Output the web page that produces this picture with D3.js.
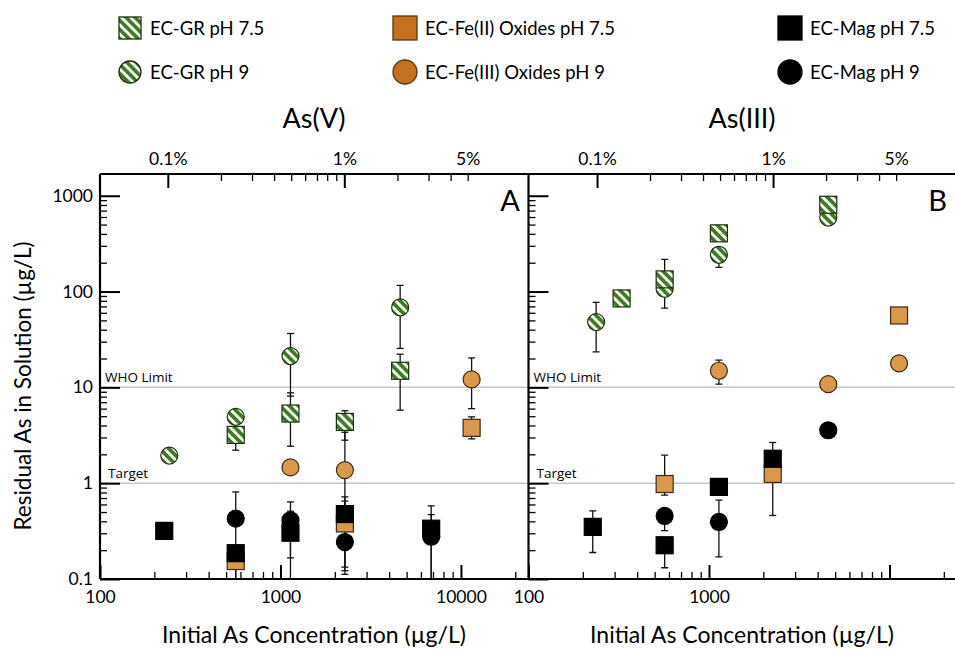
<!DOCTYPE html>
<html>
<head>
<meta charset="utf-8">
<script src="https://cdn.jsdelivr.net/npm/d3@7"></script>
<style>
  body { margin: 0; background: #fff; }
  svg { font-family: Lato, "Open Sans", sans-serif; }
</style>
</head>
<body>
<svg id="chart" width="955" height="651"></svg>
<script>
// ---- data (initial conc µg/L, residual µg/L, error low / high) ----
const grSq75A = [
  {c: 565, v: 3.19, lo: 2.21, hi: null},
  {c: 1136, v: 5.33, lo: 2.43, hi: 8.77},
  {c: 2275, v: 4.36, lo: 2.81, hi: 5.7},
  {c: 4605, v: 14.9, lo: 5.78, hi: 22.2}
];
const grCi9A = [
  {c: 242, v: 1.94, lo: null, hi: null},
  {c: 565, v: 4.92, lo: null, hi: null},
  {c: 1136, v: 21.2, lo: 8.1, hi: 36.5},
  {c: 4605, v: 68.3, lo: 25.5, hi: 116}
];
const feSq75A = [
  {c: 565, v: 0.154, lo: null, hi: null},
  {c: 2275, v: 0.38, lo: 0.122, hi: 0.65},
  {c: 11460, v: 3.78, lo: 2.9, hi: 4.92}
];
const feCi9A = [
  {c: 1136, v: 1.46, lo: null, hi: null},
  {c: 2275, v: 1.37, lo: 0.5, hi: 3.4},
  {c: 11460, v: 12.1, lo: 6, hi: 20.3}
];
const magSq75A = [
  {c: 227, v: 0.318, lo: null, hi: null},
  {c: 565, v: 0.186, lo: 0.09, hi: null},
  {c: 1136, v: 0.304, lo: 0.166, hi: 0.51},
  {c: 2275, v: 0.476, lo: 0.133, hi: 0.72},
  {c: 6840, v: 0.335, lo: 0.08, hi: 0.47}
];
const magCi9A = [
  {c: 565, v: 0.427, lo: 0.09, hi: 0.81},
  {c: 1136, v: 0.41, lo: 0.08, hi: 0.637},
  {c: 2275, v: 0.243, lo: 0.112, hi: null},
  {c: 6840, v: 0.276, lo: 0.08, hi: 0.58}
];

const grSq75B = [
  {c: 328, v: 84.7, lo: null, hi: null},
  {c: 568, v: 134, lo: null, hi: 217},
  {c: 1135, v: 405, lo: null, hi: null},
  {c: 4580, v: 805, lo: null, hi: null}
];
const grCi9B = [
  {c: 237, v: 48, lo: 23.5, hi: 77},
  {c: 568, v: 106.6, lo: 67, hi: null},
  {c: 1135, v: 242, lo: 179, hi: null},
  {c: 4580, v: 592, lo: null, hi: null}
];
const feSq75B = [
  {c: 568, v: 0.98, lo: 0.75, hi: 1.96},
  {c: 2255, v: 1.25, lo: 0.46, hi: null},
  {c: 11300, v: 56.3, lo: null, hi: null}
];
const feCi9B = [
  {c: 1135, v: 14.9, lo: 10.8, hi: 19.2},
  {c: 4580, v: 10.8, lo: null, hi: null},
  {c: 11300, v: 17.8, lo: null, hi: null}
];
const magSq75B = [
  {c: 227, v: 0.35, lo: 0.189, hi: 0.513},
  {c: 568, v: 0.225, lo: 0.131, hi: null},
  {c: 1135, v: 0.915, lo: null, hi: null},
  {c: 2255, v: 1.8, lo: null, hi: 2.66}
];
const magCi9B = [
  {c: 568, v: 0.455, lo: 0.32, hi: null},
  {c: 1135, v: 0.394, lo: 0.17, hi: 0.664},
  {c: 4580, v: 3.57, lo: null, hi: null}
];

const legendLabels = ["EC-GR pH 7.5", "EC-Fe(II) Oxides pH 7.5", "EC-Mag pH 7.5",
                      "EC-GR pH 9", "EC-Fe(III) Oxides pH 9", "EC-Mag pH 9"];
const yTickValues = [0.1, 1, 10, 100, 1000];
const yTickLabels = ["0.1", "1", "10", "100", "1000"];
const xMajorTicks = [100, 1000, 10000];
const pctMajorTicks = [0.1, 1];
const pctLabelTicks = [0.1, 1, 5];
const pctLabels = ["0.1%", "1%", "5%"];
const pctMinorTicks = [0.2, 0.3, 0.4, 0.5, 0.6, 0.7, 0.8, 0.9, 2, 3, 4, 5];
const refLines = [{v: 10, label: "WHO Limit"}, {v: 1, label: "Target"}];

// ---- setup ----
const svg = d3.select("#chart");
const plotTop = 174, plotBottom = 579;
const green = "#3e7c22", orange = "#d9984c", orangeLegend = "#c47222";

const defs = svg.append("defs");
const pat = defs.append("pattern")
    .attr("id", "stripe")
    .attr("patternUnits", "userSpaceOnUse")
    .attr("width", 6.5).attr("height", 6.5)
    .attr("patternTransform", "rotate(-45)");
pat.append("rect").attr("width", 6.5).attr("height", 6.5).attr("fill", green);
pat.append("rect").attr("width", 2.8).attr("height", 6.5).attr("fill", "#fff");

var y = d3.scaleLog().domain([0.1, 1686]).range([plotBottom, plotTop]);

const panels = [
  {key: "A", x0: 100, x1: 528.5, xMax: 23680, pctMin: 0.0413, pctMax: 11.05, title: "As(V)",
   xLabels: ["100", "1000", "10000"], yLabels: true,
   series: [feCi9A, feSq75A, grCi9A, grSq75A, magCi9A, magSq75A]},
  {key: "B", x0: 528.5, x1: 955, xMax: 23070, pctMin: 0.0408, pctMax: 10.8, title: "As(III)",
   xLabels: ["100", "1000", ""], yLabels: false,
   series: [feCi9B, feSq75B, grCi9B, grSq75B, magCi9B, magSq75B]}
];
// marker style per series slot (same order in both panels)
const styles = [
  {shape: "circle", fill: orange, stroke: "#3a2a15"},
  {shape: "square", fill: orange, stroke: "#3a2a15"},
  {shape: "circle", fill: "url(#stripe)", stroke: "#1b2e10"},
  {shape: "square", fill: "url(#stripe)", stroke: "#1b2e10"},
  {shape: "circle", fill: "#000", stroke: "#000"},
  {shape: "square", fill: "#000", stroke: "#000"}
];

// reference lines (span both panels)
refLines.forEach(function(r) {
  svg.append("line")
      .attr("x1", 100).attr("x2", 955)
      .attr("y1", y(r.v)).attr("y2", y(r.v))
      .attr("stroke", "#c8c8c8").attr("stroke-width", 1.5);
});

panels.forEach(function(p) {
  var x = d3.scaleLog().domain([100, p.xMax]).range([p.x0, p.x1]);
  var xp = d3.scaleLog().domain([p.pctMin, p.pctMax]).range([p.x0, p.x1]);

  defs.append("clipPath").attr("id", "clip" + p.key)
    .append("rect").attr("x", p.x0).attr("y", plotTop)
      .attr("width", p.x1 - p.x0).attr("height", plotBottom - plotTop);

  // ref line labels
  refLines.forEach(function(r) {
    svg.append("text")
        .attr("x", p.x0 + (r.label === "Target" ? 8 : 5))
        .attr("y", y(r.v) - 5)
        .attr("font-family", "'Open Sans', sans-serif")
        .attr("font-size", 13.5)
        .text(r.label);
  });

  // bottom axis
  var xMinor = x.ticks().filter(function(t) { return xMajorTicks.indexOf(t) < 0; });
  svg.append("g").attr("class", "axis")
      .attr("transform", "translate(0," + plotBottom + ")")
      .call(d3.axisBottom(x).tickValues(xMinor).tickSizeInner(-7).tickSizeOuter(0).tickFormat(""));
  svg.append("g").attr("class", "axis major")
      .attr("transform", "translate(0," + plotBottom + ")")
      .call(d3.axisBottom(x).tickValues(xMajorTicks).tickSizeInner(-14).tickSizeOuter(0).tickPadding(12)
        .tickFormat(function(d, i) { return p.xLabels[i]; }));

  // top axis (percent)
  svg.append("g").attr("class", "axis")
      .attr("transform", "translate(0," + plotTop + ")")
      .call(d3.axisTop(xp).tickValues(pctMinorTicks).tickSizeInner(-7).tickSizeOuter(0).tickFormat(""));
  svg.append("g").attr("class", "axis major")
      .attr("transform", "translate(0," + plotTop + ")")
      .call(d3.axisTop(xp).tickValues(pctMajorTicks).tickSizeInner(-14).tickSizeOuter(0).tickFormat(""));
  svg.append("g").attr("class", "axis nolines")
      .attr("transform", "translate(0," + plotTop + ")")
      .call(d3.axisTop(xp).tickValues(pctLabelTicks).tickSize(0).tickPadding(9)
        .tickFormat(function(d, i) { return pctLabels[i]; }));

  // left axis
  var yMinor = y.ticks().filter(function(t) { return yTickValues.indexOf(t) < 0; });
  svg.append("g").attr("class", "axis")
      .attr("transform", "translate(" + p.x0 + ",0)")
      .call(d3.axisLeft(y).tickValues(yMinor).tickSizeInner(-7).tickSizeOuter(0).tickFormat(""));
  svg.append("g").attr("class", "axis major")
      .attr("transform", "translate(" + p.x0 + ",0)")
      .call(d3.axisLeft(y).tickValues(yTickValues).tickSizeInner(-20).tickSizeOuter(0).tickPadding(7)
        .tickFormat(function(d, i) { return p.yLabels ? yTickLabels[i] : ""; }));

  // titles
  var mid = p.key === "A" ? 314 : 742;
  svg.append("text").attr("x", mid).attr("y", 128).attr("text-anchor", "middle")
      .attr("font-size", 27).text(p.title);
  svg.append("text").attr("x", mid).attr("y", 643).attr("text-anchor", "middle")
      .attr("font-size", 23).text("Initial As Concentration (\u00b5g/L)");
  svg.append("text").attr("x", p.key === "A" ? 520 : 947).attr("y", 211).attr("text-anchor", "end")
      .attr("font-size", 29).text(p.key);

  // error bars then markers
  var plot = svg.append("g").attr("clip-path", "url(#clip" + p.key + ")");
  p.series.forEach(function(data) {
    data.forEach(function(d) {
      if (d.lo == null && d.hi == null) return;
      var cx = x(d.c);
      var y1 = y(d.lo == null ? d.v : d.lo), y2 = y(d.hi == null ? d.v : d.hi);
      plot.append("line").attr("x1", cx).attr("x2", cx).attr("y1", y1).attr("y2", y2)
          .attr("stroke", "#111").attr("stroke-width", 1.3);
      [d.lo, d.hi].forEach(function(e) {
        if (e == null) return;
        plot.append("line").attr("x1", cx - 3.5).attr("x2", cx + 3.5)
            .attr("y1", y(e)).attr("y2", y(e))
            .attr("stroke", "#111").attr("stroke-width", 1.3);
      });
    });
  });
  p.series.forEach(function(data, si) {
    var st = styles[si];
    var g = plot.selectAll(null).data(data).enter().append("g")
        .attr("transform", function(d) { return "translate(" + x(d.c) + "," + y(d.v) + ")"; });
    if (st.shape === "circle") {
      g.append("circle").attr("r", 8.5);
    } else {
      g.append("rect").attr("x", -8.5).attr("y", -8.5).attr("width", 17).attr("height", 17);
    }
    g.selectAll("circle,rect").attr("fill", st.fill).attr("stroke", st.stroke).attr("stroke-width", 1.2);
  });
});

// frame
[[100, plotTop, 955, plotTop], [100, plotBottom, 955, plotBottom], [100, plotTop, 100, plotBottom], [528.5, plotTop, 528.5, plotBottom]]
  .forEach(function(l) {
    svg.append("line").attr("x1", l[0]).attr("y1", l[1]).attr("x2", l[2]).attr("y2", l[3])
        .attr("stroke", "#000").attr("stroke-width", 2.2);
  });

svg.selectAll(".axis .domain").remove();
svg.selectAll(".axis .tick line").attr("stroke", "#000").attr("stroke-width", 1.3);
svg.selectAll(".axis.major .tick line").attr("stroke-width", 2);
svg.selectAll(".axis.nolines .tick line").remove();
svg.selectAll(".axis text").attr("font-size", 17.5).attr("fill", "#000")
    .attr("font-family", "Lato, 'Open Sans', sans-serif");

// y title
svg.append("text")
    .attr("transform", "translate(31,386) rotate(-90)")
    .attr("text-anchor", "middle").attr("font-size", 22.5)
    .text("Residual As in Solution (\u00b5g/L)");

// legend
const legCols = [130, 405, 790], legRows = [28, 72];
const legendSwatch = [
  {shape: "square", fill: "url(#stripe)", stroke: "#1b2e10", s: 22},
  {shape: "square", fill: orangeLegend, stroke: "#5b3510", s: 24},
  {shape: "square", fill: "#000", stroke: "#000", s: 24},
  {shape: "circle", fill: "url(#stripe)", stroke: "#1b2e10", s: 22},
  {shape: "circle", fill: orangeLegend, stroke: "#5b3510", s: 24},
  {shape: "circle", fill: "#000", stroke: "#000", s: 24}
];
legendLabels.forEach(function(lab, i) {
  var sw = legendSwatch[i];
  var g = svg.append("g")
      .attr("transform", "translate(" + legCols[i % 3] + "," + legRows[Math.floor(i / 3)] + ")");
  if (sw.shape === "square") {
    g.append("rect").attr("x", -sw.s / 2).attr("y", -sw.s / 2).attr("width", sw.s).attr("height", sw.s);
  } else {
    g.append("circle").attr("r", sw.s / 2);
  }
  g.selectAll("rect,circle").attr("fill", sw.fill).attr("stroke", sw.stroke).attr("stroke-width", 1.3);
  g.append("text").attr("x", 20).attr("y", 6.5).attr("font-size", 18.5).text(lab);
});
</script>
</body>
</html>
